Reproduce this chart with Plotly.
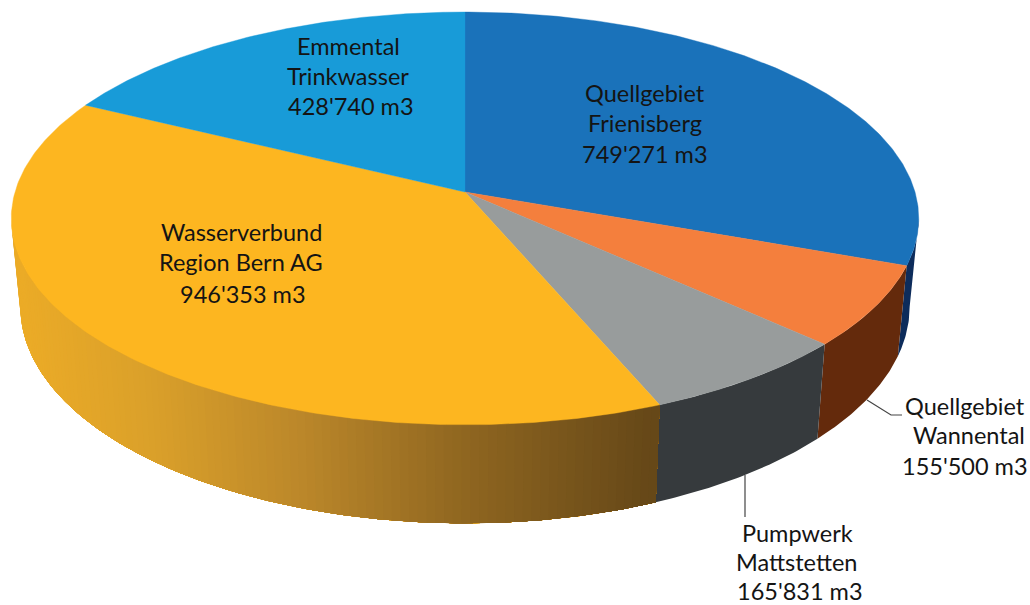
import math
import numpy as np
import plotly.graph_objects as go

# ---- data ----
names = ["Quellgebiet Frienisberg", "Quellgebiet Wannental", "Pumpwerk Mattstetten",
         "Wasserverbund Region Bern AG", "Emmental Trinkwasser"]
values = [749271, 155500, 165831, 946353, 428740]
label_lines = [["Quellgebiet", "Frienisberg"], ["Quellgebiet", "Wannental"],
               ["Pumpwerk", "Mattstetten"], ["Wasserverbund", "Region Bern AG"],
               ["Emmental", "Trinkwasser"]]
top_colors = ["#1a72ba", "#f47f3d", "#989c9c", "#fdb620", "#189bd8"]
side_stops = [
    [(0, "#0d2c5b"), (1030, "#0d2c5b")],
    [(0, "#642a0c"), (1030, "#642a0c")],
    [(0, "#363a3d"), (1030, "#363a3d")],
    [(20, "#ebab27"), (150, "#daa02a"), (300, "#bb872a"), (465, "#8f6620"), (650, "#664818")],
    [(0, "#0d5a80"), (1030, "#0d5a80")],
]

# ---- view of the tilted disc ----
CX, K = 465.0, -0.128
TOP = dict(y0=192.0, a=450.0, b=203.0)
BOT = dict(y0=279.0, a=441.0, b=213.0)
# label placement: (x, y) of each line
label_pos = [[(645, 93), (645, 123), (645, 154)],
             [(965, 406), (969, 435), (965, 466)],
             [(797, 533), (796, 562), (800, 591)],
             [(241, 232), (241, 262), (243, 294)],
             [(348, 46), (348, 76), (351, 106)]]
leaders = [([867, 891, 902], [400, 415, 415]), ([745, 745], [475, 517])]


def project(deg, plane):
    t = np.radians(deg)
    u, v = np.sin(t), -np.cos(t)
    w = 1 + K * v
    return CX + plane["a"] * u / w, plane["y0"] + plane["b"] * v / w


def hex_rgb(h):
    return [int(h[i:i + 2], 16) for i in (1, 3, 5)]


def color_at(x, stops):
    xs = [s[0] for s in stops]
    cs = np.array([hex_rgb(s[1]) for s in stops], float)
    rgb = [np.interp(x, xs, cs[:, i]) for i in range(3)]
    return "rgb(%d,%d,%d)" % tuple(round(c) for c in rgb)


fig = go.Figure()
total = sum(values)
edges = np.concatenate([[0], np.cumsum(values) / total * 360])
vis_lo = math.degrees(math.acos(K))  # silhouette where v = -K
vis_hi = 360 - vis_lo

# side wall: each band is painted from its start to the slice's far end (from the left
# of the picture towards the right), so that later bands cover earlier ones with no seams
for i in range(len(values)):
    lo, hi = max(edges[i], vis_lo), min(edges[i + 1], vis_hi)
    if hi <= lo:
        continue
    flat = side_stops[i][0][1] == side_stops[i][-1][1]
    n = 1 if flat else int(math.ceil((hi - lo) / 1.0))
    grid = np.linspace(hi, lo, n + 1)
    for a0, a1 in zip(grid[:-1], grid[1:]):
        arc = np.linspace(a0, lo, max(3, int((a0 - lo) / 0.5) + 2))
        xt, yt = project(arc, TOP)
        xb, yb = project(arc[::-1], BOT)
        xm, _ = project(np.array([(a0 + a1) / 2]), TOP)
        col = color_at(xm[0], side_stops[i])
        fig.add_trace(go.Scatter(
            x=np.concatenate([xt, xb, xt[:1]]), y=np.concatenate([yt, yb, yt[:1]]),
            mode="lines", fill="toself", fillcolor=col,
            line=dict(color=col, width=0), hoverinfo="skip", showlegend=False))

# top face
for i, name in enumerate(names):
    arc = np.linspace(edges[i], edges[i + 1], 200)
    x, y = project(arc, TOP)
    fig.add_trace(go.Scatter(
        x=np.concatenate([[CX], x, [CX]]),
        y=np.concatenate([[TOP["y0"]], y, [TOP["y0"]]]),
        mode="lines", fill="toself", fillcolor=top_colors[i],
        line=dict(color=top_colors[i], width=0.4), name=name,
        hoverinfo="name", showlegend=False))

# leader lines
for lx, ly in leaders:
    fig.add_trace(go.Scatter(x=lx, y=ly, mode="lines", line=dict(color="#444444", width=1.2),
                             hoverinfo="skip", showlegend=False))

# labels
for lines, val, pos in zip(label_lines, values, label_pos):
    vt = f"{val:,}".replace(",", "'") + " m3"
    for txt, (lx, yy) in zip(lines + [vt], pos):
        fig.add_annotation(x=lx, y=yy, text=txt, showarrow=False, xanchor="center", yanchor="middle",
                           font=dict(family="Lato", size=23.5, color="#141414"))

fig.update_layout(
    width=1030, height=605, margin=dict(l=0, r=0, t=0, b=0),
    paper_bgcolor="white", plot_bgcolor="white", showlegend=False,
    xaxis=dict(range=[0, 1030], visible=False, fixedrange=True),
    yaxis=dict(range=[605, 0], visible=False, fixedrange=True),
)
fig.write_html("out.html", config={"displayModeBar": False},
               post_script="document.body.style.margin='0';")
